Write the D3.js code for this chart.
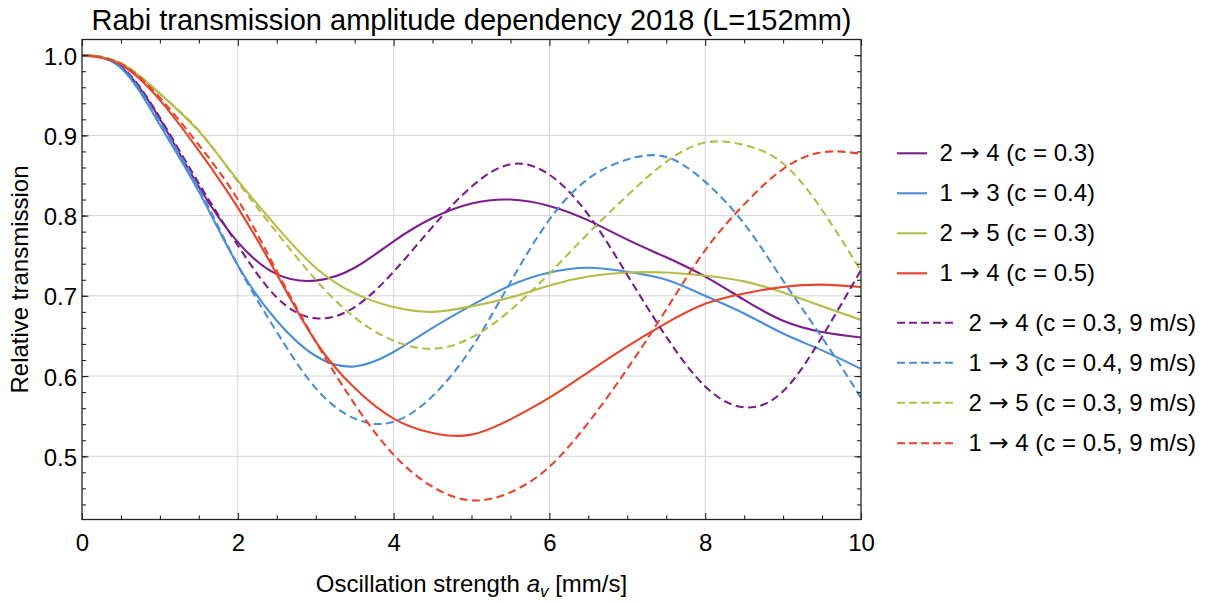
<!DOCTYPE html>
<html><head><meta charset="utf-8">
<script src="https://cdn.jsdelivr.net/npm/d3@7/dist/d3.min.js"></script>
<style>
body{margin:0;background:#fff;}
text{font-family:"Liberation Sans",Arial,Helvetica,sans-serif;fill:#000;}
</style>
</head><body>
<svg id="chart" width="1208" height="603"></svg>
<script>
// ---- data ----
const xValues = [0,0.5,1,1.5,2,2.5,3,3.5,4,4.5,5,5.5,6,6.5,7,7.5,8,8.5,9,9.5,10];

const t24 = [1.0,0.985,0.92,0.836,0.767,0.727,0.719,0.735,0.768,0.797,0.815,0.82,0.812,0.794,0.77,0.748,0.724,0.695,0.669,0.655,0.648];
const t13 = [1.0,0.984,0.913,0.83,0.738,0.669,0.625,0.612,0.630,0.660,0.688,0.713,0.729,0.735,0.73,0.72,0.70,0.678,0.653,0.632,0.609];
const t25 = [1.0,0.990,0.952,0.905,0.844,0.786,0.735,0.703,0.686,0.68,0.687,0.698,0.713,0.724,0.729,0.729,0.725,0.718,0.704,0.687,0.67];
const t14 = [1.0,0.988,0.944,0.881,0.81,0.727,0.643,0.585,0.547,0.529,0.527,0.546,0.573,0.605,0.637,0.666,0.690,0.703,0.711,0.714,0.711];

const t24v9 = [1.0,0.986,0.922,0.84,0.763,0.698,0.672,0.686,0.73,0.786,0.836,0.864,0.851,0.801,0.726,0.649,0.587,0.561,0.581,0.649,0.732];
const t13v9 = [1.0,0.985,0.917,0.834,0.738,0.655,0.585,0.547,0.543,0.575,0.635,0.717,0.795,0.846,0.870,0.873,0.842,0.79,0.719,0.648,0.573];
const t25v9 = [1.0,0.990,0.952,0.906,0.842,0.779,0.72,0.673,0.644,0.634,0.648,0.682,0.728,0.778,0.825,0.867,0.891,0.888,0.865,0.807,0.731];
const t14v9 = [1.0,0.989,0.947,0.888,0.82,0.731,0.643,0.565,0.502,0.462,0.445,0.455,0.487,0.542,0.609,0.683,0.757,0.814,0.858,0.879,0.877];

const seriesFrom = ["2","1","2","1","2","1","2","1"];
const seriesTo = ["4","3","5","4","4","3","5","4"];
const seriesParams = ["(c = 0.3)","(c = 0.4)","(c = 0.3)","(c = 0.5)",
  "(c = 0.3, 9 m/s)","(c = 0.4, 9 m/s)","(c = 0.3, 9 m/s)","(c = 0.5, 9 m/s)"];
const seriesValues = [t24,t13,t25,t14,t24v9,t13v9,t25v9,t14v9];
const seriesColors = ["#7b1d8e","#4a8fd6","#b4be47","#e5452c","#7b1d8e","#4a8fd6","#b4be47","#e5452c"];
const seriesDashed = [false,false,false,false,true,true,true,true];

const xMajorTicks = [0,2,4,6,8,10];
const yMajorTicks = [0.5,0.6,0.7,0.8,0.9,1.0];

const titleText = "Rabi transmission amplitude dependency 2018 (L=152mm)";
const yLabelText = "Relative transmission";

// ---- layout ----
const svg = d3.select("#chart");
const L = 82, R = 861, T = 39.5, B = 519.5;
const x = d3.scaleLinear().domain([0,10]).range([L,R]);
const y = d3.scaleLinear().domain([0.4212,1.0195]).range([B,T]);

const xMinor = d3.range(0,10.001,0.5);
const yMinor = d3.range(0.44,1.0001,0.02);

// grid
const grid = svg.append("g").attr("stroke","#d4d4d4").attr("stroke-width",1);
grid.selectAll("line.gx").data([2,4,6,8]).join("line")
  .attr("x1",d=>x(d)).attr("x2",d=>x(d)).attr("y1",T).attr("y2",B);
grid.selectAll("line.gy").data([0.5,0.6,0.7,0.8,0.9]).join("line")
  .attr("x1",L).attr("x2",R).attr("y1",d=>y(d)).attr("y2",d=>y(d));

// curves
svg.append("clipPath").attr("id","clip").append("rect")
  .attr("x",L).attr("y",T-2).attr("width",R-L).attr("height",B-T+2);
const line = d3.line().x((d,i)=>x(xValues[i])).y(d=>y(d)).curve(d3.curveNatural);
const plot = svg.append("g").attr("clip-path","url(#clip)");
seriesValues.forEach((vals,i)=>{
  plot.append("path").attr("d",line(vals)).attr("fill","none")
    .attr("stroke",seriesColors[i]).attr("stroke-width",2.1)
    .attr("stroke-dasharray",seriesDashed[i]?"8,4.5":null)
    .attr("stroke-linecap","butt");
});

// axes (ticks inside)
function styleAxis(g){
  g.select(".domain").remove();
  g.selectAll("line").attr("stroke","#222").attr("stroke-width",1.1);
  g.selectAll("text").style("font-size","24px").attr("fill","#000");
}
const maj = 6.5, mnr = 4;
svg.append("g").attr("transform",`translate(0,${B})`)
  .call(d3.axisBottom(x).tickValues(xMajorTicks).tickSize(-maj).tickPadding(14).tickFormat(d3.format("d")))
  .call(styleAxis);
svg.append("g").attr("transform",`translate(0,${B})`)
  .call(d3.axisBottom(x).tickValues(xMinor.filter(v=>v%2!==0)).tickSize(-mnr).tickFormat(""))
  .call(styleAxis);
svg.append("g").attr("transform",`translate(0,${T})`)
  .call(d3.axisTop(x).tickValues(xMajorTicks).tickSize(-maj).tickFormat(""))
  .call(styleAxis);
svg.append("g").attr("transform",`translate(0,${T})`)
  .call(d3.axisTop(x).tickValues(xMinor.filter(v=>v%2!==0)).tickSize(-mnr).tickFormat(""))
  .call(styleAxis);
const yl = svg.append("g").attr("transform",`translate(${L},0)`)
  .call(d3.axisLeft(y).tickValues(yMajorTicks).tickSize(-maj).tickPadding(5).tickFormat(d3.format(".1f")))
  .call(styleAxis);
yl.selectAll("text").attr("dy","0.38em");
svg.append("g").attr("transform",`translate(${L},0)`)
  .call(d3.axisLeft(y).tickValues(yMinor).tickSize(-mnr).tickFormat(""))
  .call(styleAxis);
svg.append("g").attr("transform",`translate(${R},0)`)
  .call(d3.axisRight(y).tickValues(yMajorTicks).tickSize(-maj).tickFormat(""))
  .call(styleAxis);
svg.append("g").attr("transform",`translate(${R},0)`)
  .call(d3.axisRight(y).tickValues(yMinor).tickSize(-mnr).tickFormat(""))
  .call(styleAxis);

// frame
svg.append("rect").attr("x",L).attr("y",T).attr("width",R-L).attr("height",B-T)
  .attr("fill","none").attr("stroke","#222").attr("stroke-width",1.3);

// title
svg.append("text").attr("x",(L+R)/2).attr("y",30).attr("text-anchor","middle")
  .style("font-size","29px").text(titleText);

// axis labels
const xl = svg.append("text").attr("x",(L+R)/2).attr("y",592).attr("text-anchor","middle").style("font-size","24px");
xl.append("tspan").text("Oscillation strength ");
xl.append("tspan").style("font-style","italic").text("a");
xl.append("tspan").style("font-style","italic").style("font-size","17px").attr("dy",5).text("v");
xl.append("tspan").attr("dy",-5).text(" [mm/s]");

svg.append("text").attr("transform",`translate(28,${(T+B)/2}) rotate(-90)`)
  .attr("text-anchor","middle").style("font-size","24px").text(yLabelText);

// legend
const legendRowY = [153.3,193.3,233.3,273.3,322.7,362.7,402.7,443.3];
const lg = svg.append("g");
seriesParams.forEach((par,i)=>{
  const yy = legendRowY[i];
  const len = seriesDashed[i] ? 56 : 30;
  lg.append("line").attr("x1",897).attr("x2",897+len).attr("y1",yy).attr("y2",yy)
    .attr("stroke",seriesColors[i]).attr("stroke-width",2.1)
    .attr("stroke-dasharray",seriesDashed[i]?"8,4":null);
  const t = lg.append("text").attr("x",seriesDashed[i]?968.5:939.5).attr("y",yy+7.8)
    .style("font-size","24px");
  t.append("tspan").text(seriesFrom[i] + " ");
  t.append("tspan").style("font-family","'DejaVu Sans'").text("\u2192");
  t.append("tspan").text(" " + seriesTo[i] + " " + par);
});
</script>
</body></html>
